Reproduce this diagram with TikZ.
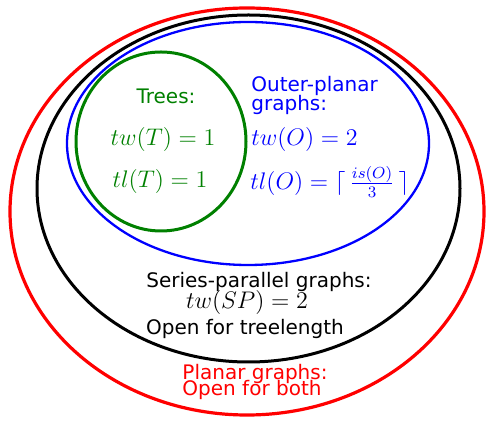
\documentclass[tikz,border=0pt]{standalone}
\usepackage{fontspec}
\setsansfont{DejaVu Sans}
\usetikzlibrary{shapes.geometric}
\definecolor{treegreen}{RGB}{0,128,0}

\tikzset{
  family/.style={draw,ellipse,inner sep=0pt,line width=1.5pt},
  txt/.style={font=\sffamily\fontsize{10}{10}\selectfont,inner sep=0pt},
  formula/.style={font=\fontsize{12}{12}\selectfont,inner sep=0pt}
}

\begin{document}
\begin{tikzpicture}[x=0.5pt,y=-0.5pt]
  \useasboundingbox (0,0) rectangle (487,421);

  \node[family,red,line width=1.6pt,minimum width=237pt,minimum height=203.5pt] (planar) at (247,211.5) {};
  \node[family,black,minimum width=211.5pt,minimum height=173.5pt] (sp) at (248.5,188.5) {};
  \node[family,blue,line width=1.15pt,minimum width=181pt,minimum height=121.5pt] (outer) at (248,143.5) {};
  \node[family,treegreen,minimum width=85pt,minimum height=89.5pt] (trees) at (161,141.5) {};

  \node[txt,treegreen] (treesname) at (166,96) {Trees:};
  \node[formula,treegreen] (treestw) at (163,140) {$tw(T)=1$};
  \node[formula,treegreen] (treestl) at (160,182) {$tl(T)=1$};

  \node[txt,blue,anchor=west] (outername) at (251,86) {Outer-planar};
  \node[txt,blue,anchor=west] (outername2) at (251,105) {graphs:};
  \node[formula,blue,anchor=west] (outertw) at (251,140) {$tw(O)=2$};
  \node[formula,blue,anchor=west] (outertl) at (250,182) {$tl(O)=\lceil\,\frac{is(O)}{3}\,\rceil$};

  \node[txt] (spname) at (259,282) {Series-parallel graphs:};
  \node[formula] (sptw) at (247,303) {$tw(SP)=2$};
  \node[txt] (sptl) at (245,329) {Open for treelength};

  \node[txt,red] (planarname) at (255,374) {Planar graphs:};
  \node[txt,red] (planaropen) at (252,390) {Open for both};
\end{tikzpicture}
\end{document}
